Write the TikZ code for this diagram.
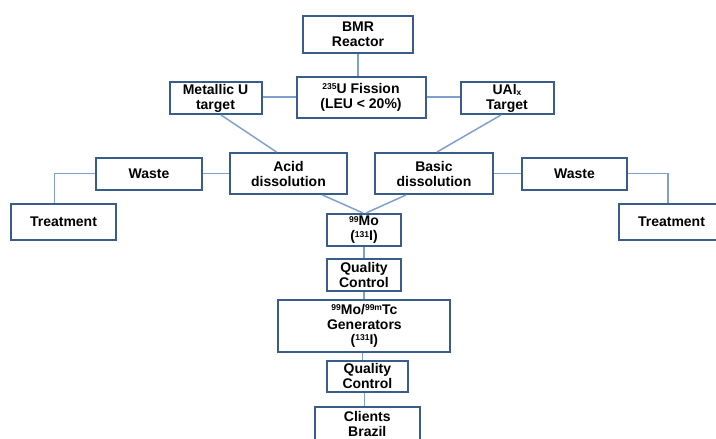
\documentclass[tikz,border=0pt]{standalone}
\usepackage{fontspec}
\setmainfont{Liberation Sans}
\usetikzlibrary{positioning}

\definecolor{boxblue}{HTML}{385D8A}
\definecolor{lineblue}{HTML}{7F9FCF}
\newcommand{\iso}[1]{\raisebox{0.45ex}{\fontsize{8.5}{8.5}\selectfont #1}}
\newcommand{\lowx}[1]{\raisebox{-0.15ex}{\fontsize{8.5}{8.5}\selectfont #1}}

\begin{document}
\begin{tikzpicture}[
    x=1pt, y=-1pt,
    box/.style={rectangle, draw=boxblue, line width=2pt, fill=white, inner sep=0pt, align=center,
        font=\bfseries\fontsize{14}{15}\selectfont},
    link/.style={draw=lineblue, line width=1.5pt}
]
    \useasboundingbox (0,0) rectangle (716,439);

    \node[box, minimum width=110, minimum height=37] (reactor) at (358,34) {BMR\\Reactor};
    \node[box, minimum width=129, minimum height=41] (fission) at (361,97) {\iso{235}U Fission\\(LEU < 20\%)};
    \node[box, minimum width=92, minimum height=32] (metal) at (215.5,98) {Metallic U\\target};
    \node[box, minimum width=93, minimum height=32] (ualx) at (507,98) {UAl\lowx{x}\\Target};

    \node[box, minimum width=117, minimum height=41] (acid) at (288.5,173.5) {Acid\\dissolution};
    \node[box, minimum width=118, minimum height=41] (basic) at (434,173.5) {Basic\\dissolution};
    \node[box, minimum width=106, minimum height=32] (wasteL) at (149,173.7) {Waste};
    \node[box, minimum width=105, minimum height=32] (wasteR) at (574.5,173.7) {Waste};
    \node[box, minimum width=105, minimum height=36] (treatL) at (63.5,222) {Treatment};
    \node[box, minimum width=105, minimum height=36] (treatR) at (671.5,222) {Treatment};

    \node[box, minimum width=74, minimum height=32] (mo) at (364,230) {\iso{99}Mo\\(\iso{131}I)};
    \node[box, minimum width=74, minimum height=32] (qc1) at (364,274.7) {Quality\\Control};
    \node[box, minimum width=172, minimum height=52] (gen) at (364.4,325.7) {\iso{99}Mo/\iso{99m}Tc\\Generators\\(\iso{131}I)};
    \node[box, minimum width=81, minimum height=31] (qc2) at (367.4,376.4) {Quality\\Control};
    \node[box, minimum width=105, minimum height=34] (clients) at (367.3,424) {Clients\\Brazil};

    % connectors
    \draw[link] (reactor.south) -- (reactor.south |- fission.north);
    \draw[link] (fission.west) -- (metal.east |- fission.west);
    \draw[link] (fission.east) -- (ualx.west |- fission.east);
    \draw[link] ([xshift=5.5]metal.south) -- ([xshift=-12]acid.north);
    \draw[link] ([xshift=-6]ualx.south) -- ([xshift=3]basic.north);
    \draw[link] ([xshift=34]acid.south) -- ([xshift=-1]mo.north);
    \draw[link] ([xshift=-28]basic.south) -- ([xshift=2]mo.north);
    \draw[link] (wasteL.east) -- (acid.west |- wasteL.east);
    \draw[link] (basic.east |- wasteR.west) -- (wasteR.west);
    \draw[link] (wasteL.west) -| ([xshift=-9]treatL.north);
    \draw[link] (wasteR.east) -| ([xshift=-3.5]treatR.north);
    \draw[link] (mo.south) -- (qc1.north);
    \draw[link] (qc1.south) -- (qc1.south |- gen.north);
    \draw[link] ([xshift=-2]gen.south) -- ([xshift=-2]gen.south |- qc2.north);
    \draw[link] ([xshift=-3]qc2.south) -- ([xshift=-3]qc2.south |- clients.north);

\end{tikzpicture}
\end{document}
